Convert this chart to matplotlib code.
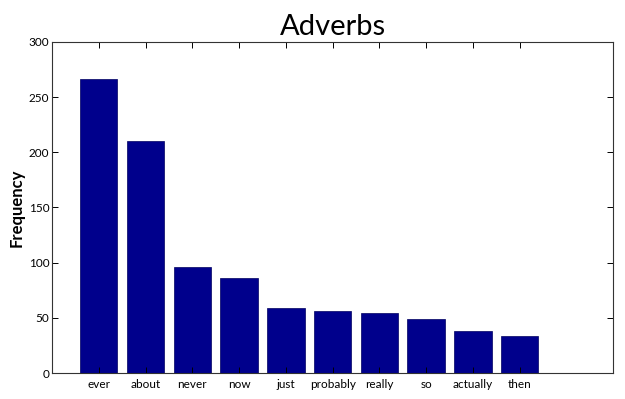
import matplotlib
matplotlib.use("Agg")
import matplotlib.pyplot as plt

words = ["ever", "about", "never", "now", "just", "probably", "really", "so", "actually", "then"]
freq = [266, 210, 96, 86, 59, 56, 54, 49, 38, 34]

plt.rcParams['font.family'] = ['Lato', 'DejaVu Sans']

fig = plt.figure(figsize=(6.25, 3.99), dpi=100)
ax = fig.add_axes([0.0832, 0.065, 0.898, 0.83])

pos = list(range(1, len(words) + 1))
ax.bar(pos, freq, width=0.8, color="#00008c", edgecolor="#000060", linewidth=0.5)

ax.set_xlim(0, 12)
ax.set_ylim(0, 300)
ax.set_xticks(pos)
ax.set_xticklabels(words, fontsize=8.5)
ax.set_yticks(range(0, 301, 50))
ax.tick_params(axis='y', labelsize=8.5, direction='in', right=True, length=4, width=0.7, pad=2)
ax.tick_params(axis='x', direction='in', top=True, length=4, width=0.7, pad=4)
for s in ax.spines.values():
    s.set_linewidth(0.8)
    s.set_color("#333333")

ax.set_title("Adverbs", fontsize=21, pad=5)
ax.set_ylabel("Frequency", fontsize=12, fontweight='bold', labelpad=3)

fig.savefig("out.png", dpi=100)
